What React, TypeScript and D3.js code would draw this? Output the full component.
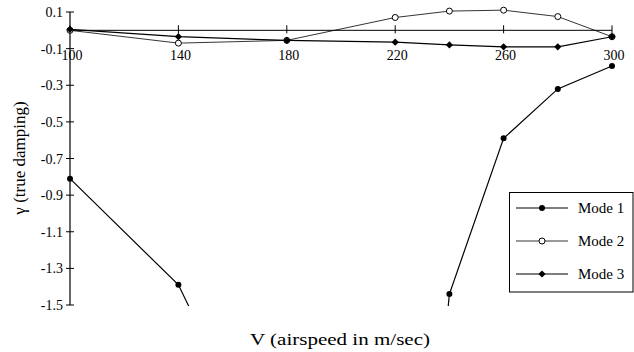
import * as d3 from 'd3';

// airspeed V (m/sec) at which each mode was evaluated
const speeds1 = [100, 140, 160, 220, 240, 260, 280, 300];
const mode1 = [-0.81, -1.39, -2.0, -4.5, -1.44, -0.59, -0.32, -0.195];
const speeds = [100, 140, 180, 220, 240, 260, 280, 300];
const mode2 = [0.0, -0.07, -0.055, 0.07, 0.105, 0.11, 0.075, -0.035];
const mode3 = [0.005, -0.035, -0.055, -0.065, -0.08, -0.09, -0.09, -0.035];

const xTicks = [100, 140, 180, 220, 260, 300];
const yTicks = [0.1, -0.1, -0.3, -0.5, -0.7, -0.9, -1.1, -1.3, -1.5];
const legendLabels = ['Mode 1', 'Mode 2', 'Mode 3'];

const FONT = "'Liberation Serif', 'Times New Roman', Times, serif";

export default function App() {
  const width = 634;
  const height = 352;
  const x = d3.scaleLinear().domain([100, 300]).range([70, 612]);
  const y = d3.scaleLinear().domain([0.1, -1.5]).range([12, 305]);

  const line = d3
    .line<[number, number]>()
    .x((d) => x(d[0]))
    .y((d) => y(d[1]));

  const pts1 = speeds1.map((s, i) => [s, mode1[i]] as [number, number]);
  const pts2 = speeds.map((s, i) => [s, mode2[i]] as [number, number]);
  const pts3 = speeds.map((s, i) => [s, mode3[i]] as [number, number]);
  const visible1 = pts1.filter((d) => d[1] >= -1.5);

  const diamond = (cx: number, cy: number, r: number) =>
    `M${cx},${cy - r}L${cx + r},${cy}L${cx},${cy + r}L${cx - r},${cy}Z`;

  const y0 = y(0);
  const legendRows = [208, 241, 274];

  return (
    <svg
      width={width}
      height={height}
      style={{ position: 'absolute', left: 0, top: 0, background: '#fff', fontFamily: FONT }}
    >
      <defs>
        <clipPath id="plot-clip">
          <rect x={60} y={0} width={570} height={y(-1.5) + 1} />
        </clipPath>
      </defs>

      {/* y axis */}
      <line x1={x(100)} x2={x(100)} y1={y(0.1)} y2={y(-1.5)} stroke="#000" strokeWidth={1.2} />
      {yTicks.map((t) => (
        <g key={t}>
          <line x1={x(100) - 4} x2={x(100) + 4} y1={y(t)} y2={y(t)} stroke="#000" strokeWidth={1} />
          <text x={63} y={y(t) + 5} textAnchor="end" fontSize={14}>
            {t.toFixed(1)}
          </text>
        </g>
      ))}

      {/* x axis along zero */}
      <line x1={x(100)} x2={x(300)} y1={y0} y2={y0} stroke="#000" strokeWidth={1} />
      {xTicks.map((t) => (
        <g key={t}>
          <line x1={x(t)} x2={x(t)} y1={y0 - 5} y2={y0 + 3} stroke="#000" strokeWidth={1} />
          <text x={x(t) + 2} y={60} textAnchor="middle" fontSize={14}>
            {t}
          </text>
        </g>
      ))}

      {/* Mode 1 */}
      <path d={line(pts1) ?? ''} fill="none" stroke="#000" strokeWidth={1.2} clipPath="url(#plot-clip)" />
      {visible1.map((d, i) => (
        <circle key={i} cx={x(d[0])} cy={y(d[1])} r={3} fill="#000" />
      ))}

      {/* Mode 2 */}
      <path d={line(pts2) ?? ''} fill="none" stroke="#000" strokeWidth={0.8} />
      {pts2.map((d, i) => (
        <circle key={i} cx={x(d[0])} cy={y(d[1])} r={3} fill="#fff" stroke="#000" strokeWidth={1} />
      ))}

      {/* Mode 3 */}
      <path d={line(pts3) ?? ''} fill="none" stroke="#000" strokeWidth={1.2} />
      {pts3.map((d, i) => (
        <path key={i} d={diamond(x(d[0]), y(d[1]), 3.6)} fill="#000" />
      ))}

      {/* legend */}
      <rect x={509.5} y={192.5} width={123.5} height={99.5} fill="#fff" stroke="#000" strokeWidth={1} />
      {legendLabels.map((lab, i) => {
        const ly = legendRows[i];
        return (
          <g key={lab}>
            <line
              x1={516}
              x2={568}
              y1={ly}
              y2={ly}
              stroke="#000"
              strokeWidth={i === 1 ? 0.8 : 1.2}
            />
            {i === 0 && <circle cx={542} cy={ly} r={3} fill="#000" />}
            {i === 1 && <circle cx={542} cy={ly} r={3} fill="#fff" stroke="#000" />}
            {i === 2 && <path d={diamond(542, ly, 3.6)} fill="#000" />}
            <text x={578} y={ly + 5} fontSize={15}>
              {lab}
            </text>
          </g>
        );
      })}

      {/* axis titles */}
      <text
        x={340}
        y={345}
        textAnchor="middle"
        fontSize={17}
        textLength={180}
        lengthAdjust="spacingAndGlyphs"
      >
        V (airspeed in m/sec)
      </text>
      <text transform={`translate(25,158) rotate(-90)`} textAnchor="middle" fontSize={17}>
        γ (true damping)
      </text>
    </svg>
  );
}
